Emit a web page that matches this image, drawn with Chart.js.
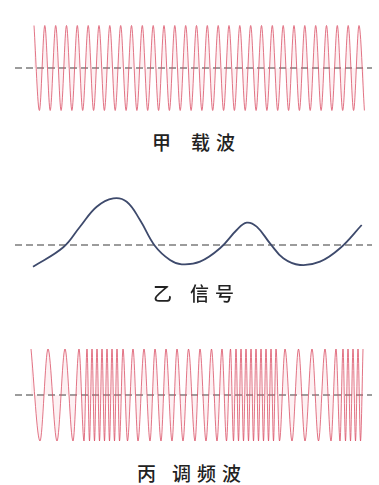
<!DOCTYPE html>
<html>
<head>
<meta charset="utf-8">
<script src="https://cdn.jsdelivr.net/npm/chart.js@4/dist/chart.umd.min.js"></script>
<style>
  html, body { margin: 0; padding: 0; background: #fff; }
  body { width: 379px; height: 485px; position: relative; overflow: hidden; }
  .box { position: absolute; left: 15px; width: 357px; }
  .lbl { position: absolute; font-family: "Noto Sans CJK SC", sans-serif; font-size: 19px; font-weight: 500;
         line-height: 19px; color: #222; letter-spacing: 6px; white-space: nowrap; }
</style>
</head>
<body>
<div class="box" style="top:20px;height:96px"><canvas id="carrier"></canvas></div>
<div class="box" style="top:185px;height:120px"><canvas id="signal"></canvas></div>
<div class="box" style="top:345px;height:100px"><canvas id="fm"></canvas></div>

<div class="lbl" style="left:152px;top:132px">甲</div>
<div class="lbl" style="left:191px;top:132px">载波</div>
<div class="lbl" style="left:153px;top:283px">乙</div>
<div class="lbl" style="left:190px;top:283px">信号</div>
<div class="lbl" style="left:137px;top:463px">丙</div>
<div class="lbl" style="left:172px;top:463px">调频波</div>

<script>
// time axis runs 0..357 for all three panels
const tMin = 0, tMax = 357;

// 甲 载波: times of crests and troughs (amplitude 1)
const carrierPeaks = [19, 29.8, 40.7, 51.5, 62.3, 73.2, 84, 94.8, 105.7, 116.5, 127.3, 138.2, 149, 159.8, 170.7,
  181.5, 192.3, 203.2, 214, 224.8, 235.7, 246.5, 257.3, 268.2, 279, 289.8, 300.7, 311.5, 322.3, 333.2, 344];
const carrierTroughs = [24.4, 35.2, 46.1, 56.9, 67.7, 78.6, 89.4, 100.2, 111.1, 121.9, 132.7, 143.6, 154.4, 165.2,
  176.1, 186.9, 197.7, 208.6, 219.4, 230.2, 241.1, 251.9, 262.7, 273.6, 284.4, 295.2, 306.1, 316.9, 327.7, 338.6, 349.4];

// 乙 信号
const signalT = [18, 48.3, 65, 81.7, 98.3, 111.7, 125, 140, 155, 166.7, 185, 205, 221.7, 231.7, 241.7, 255, 268.3, 285, 305, 325, 346.7];
const signalV = [-21.7, -2.3, 18.3, 38.3, 46.7, 43.3, 25, -1, -15, -19.3, -16.7, -3.3, 15, 22.3, 18.3, 1.7, -13.3, -20, -16.7, -3.3, 20];

// 丙 调频波: crest and trough times
const fmPeaks = [16, 33, 50, 64, 72, 77, 82, 87, 92, 97, 102, 108, 118, 129, 140, 151, 162, 173.5, 185, 196.5, 207,
  215.5, 221, 226, 231, 236, 241, 246, 251, 256, 261, 270, 283.5, 297, 310, 321, 328, 333, 338, 343, 348];
const fmTroughs = [25, 42, 58, 69, 74.5, 79.5, 84.5, 89.5, 94.5, 99.5, 104.5, 112.5, 123, 135, 146, 157, 168, 180,
  191, 202, 211.5, 218.5, 223.5, 228.5, 233.5, 238.5, 243.5, 248.5, 253.5, 258.5, 264.5, 277, 290, 303.5, 316, 325,
  330.5, 335.5, 340.5, 345.5];

function extrema(peaks, troughs) {
  const pts = peaks.map(t => ({ x: t, y: 1 })).concat(troughs.map(t => ({ x: t, y: -1 })));
  return pts.sort((a, b) => a.x - b.x);
}

function axisLine() {
  return {
    data: [{ x: tMin, y: 0 }, { x: tMax, y: 0 }],
    borderColor: '#3a3a3a',
    borderWidth: 1.2,
    borderDash: [7, 4],
    pointRadius: 0,
    clip: false
  };
}

function makeChart(id, wave, yMin, yMax) {
  new Chart(document.getElementById(id), {
    type: 'line',
    data: { datasets: [wave, axisLine()] },
    options: {
      responsive: true,
      maintainAspectRatio: false,
      animation: false,
      events: [],
      layout: { padding: 0 },
      plugins: { legend: { display: false }, tooltip: { enabled: false } },
      scales: {
        x: { type: 'linear', min: tMin, max: tMax, display: false },
        y: { min: yMin, max: yMax, display: false }
      }
    }
  });
}

const redWave = {
  borderColor: 'rgba(218, 78, 100, 0.78)',
  backgroundColor: 'rgba(238, 150, 165, 0.13)',
  fill: 'origin',
  borderWidth: 1,
  pointRadius: 0,
  cubicInterpolationMode: 'monotone',
  clip: false
};

makeChart('carrier', Object.assign({ data: extrema(carrierPeaks, carrierTroughs) }, redWave), -1.13, 1.13);

makeChart('signal', {
  data: signalT.map((t, i) => ({ x: t, y: signalV[i] })),
  borderColor: '#3e4a6c',
  borderWidth: 1.8,
  pointRadius: 0,
  tension: 0.4,
  clip: false
}, -60, 60);

makeChart('fm', Object.assign({ data: extrema(fmPeaks, fmTroughs) }, redWave), -1.087, 1.087);
</script>
</body>
</html>
